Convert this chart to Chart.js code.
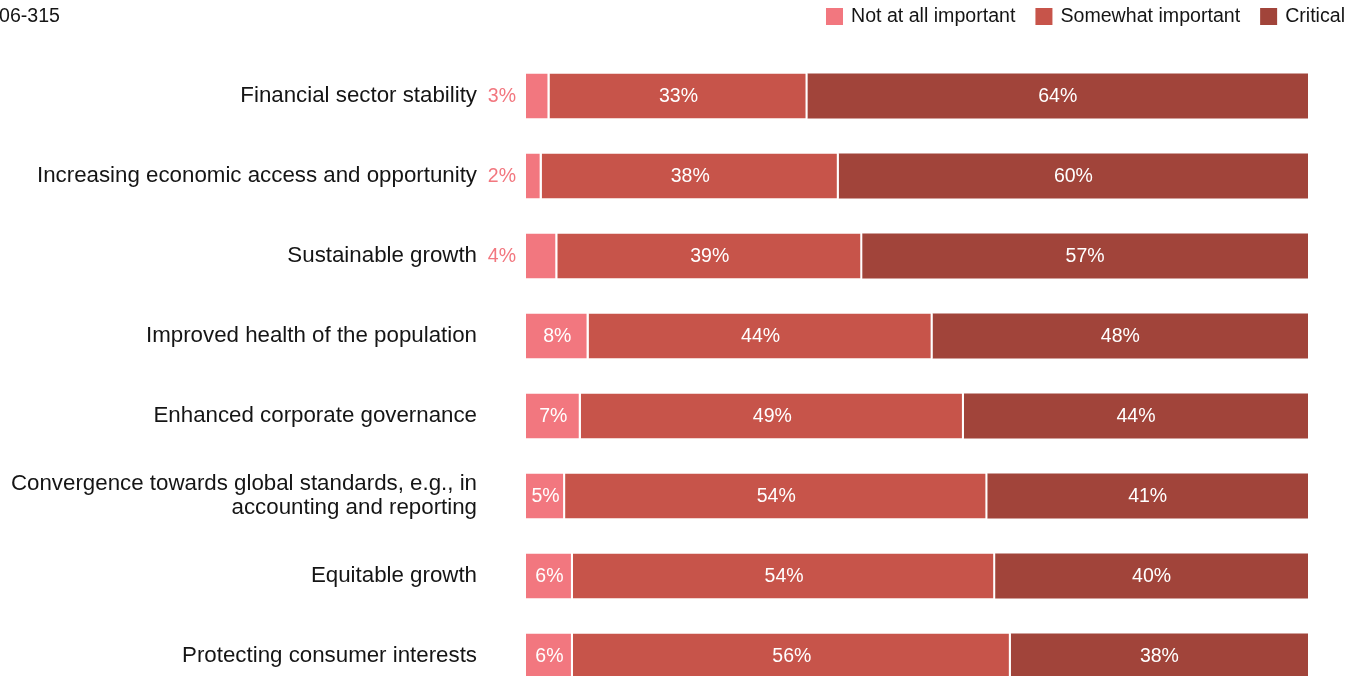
<!DOCTYPE html>
<html>
<head>
<meta charset="utf-8">
<title>Importance of objectives</title>
<script src="https://cdn.jsdelivr.net/npm/chart.js@4.4.1/dist/chart.umd.min.js"></script>
<style>
  html, body { margin: 0; padding: 0; background: #fff; overflow: hidden; }
  #wrap { position: relative; width: 1367px; height: 676px; overflow: hidden; }
  #wrap canvas { display: block; }
</style>
</head>
<body>
<div id="wrap"><canvas id="chart" width="1367" height="696"></canvas></div>
<script>
// survey answers, share of respondents in %
const categories = [
  "Financial sector stability",
  "Increasing economic access and opportunity",
  "Sustainable growth",
  "Improved health of the population",
  "Enhanced corporate governance",
  ["Convergence towards global standards, e.g., in", "accounting and reporting"],
  "Equitable growth",
  "Protecting consumer interests"
];
const notImportant = [3, 2, 4, 8, 7, 5, 6, 6];
const somewhatImportant = [33, 38, 39, 44, 49, 54, 54, 56];
const critical = [64, 60, 57, 48, 44, 41, 40, 38];

const seriesNames = ["Not at all important", "Somewhat important", "Critical"];
const seriesColors = ["#f2777f", "#c7544a", "#a1443a"];

const FONT = '"Liberation Sans", Arial, Helvetica, sans-serif';
const TEXT = "#151515";

// percent labels: white inside the segment, or to the left of the bar when it's too thin
const valueLabels = {
  id: "valueLabels",
  afterDatasetsDraw(chart) {
    const ctx = chart.ctx;
    ctx.save();
    ctx.font = "19.5px " + FONT;
    ctx.textBaseline = "middle";
    chart.data.datasets.forEach((ds, di) => {
      chart.getDatasetMeta(di).data.forEach((bar, i) => {
        const text = ds.data[i] + "%";
        const left = Math.min(bar.base, bar.x);
        const w = Math.abs(bar.x - bar.base);
        if (ctx.measureText(text).width + 6 > w) {
          ctx.fillStyle = ds.backgroundColor;
          ctx.textAlign = "right";
          ctx.fillText(text, chart.chartArea.left - 10, bar.y + 1);
        } else {
          ctx.fillStyle = "#fff";
          ctx.textAlign = "center";
          ctx.fillText(text, left + w / 2, bar.y + 1);
        }
      });
    });
    ctx.restore();
  }
};

// legend in the top right corner plus the exhibit code at the top left
const topLegend = {
  id: "topLegend",
  afterDraw(chart) {
    const ctx = chart.ctx;
    ctx.save();
    ctx.font = "19.6px " + FONT;
    ctx.textBaseline = "middle";
    ctx.textAlign = "left";
    let x = 1345;
    const items = chart.data.datasets.slice().reverse();
    items.forEach(ds => {
      const tw = ctx.measureText(ds.label).width;
      const tx = x - tw;
      const bx = tx - 8 - 17;
      ctx.fillStyle = ds.backgroundColor;
      ctx.fillRect(bx, 8, 17, 17);
      ctx.fillStyle = TEXT;
      ctx.fillText(ds.label, tx, 17);
      x = bx - 20;
    });
    ctx.fillText("06-315", -1, 17);
    ctx.restore();
  }
};

const series = [notImportant, somewhatImportant, critical];

new Chart(document.getElementById("chart"), {
  type: "bar",
  data: {
    labels: categories,
    datasets: series.map((values, i) => ({
      label: seriesNames[i],
      data: values,
      backgroundColor: seriesColors[i],
      borderColor: "#fff",
      borderWidth: i < series.length - 1 ? { top: 0, bottom: 0, left: 0, right: 2 } : 0,
      borderSkipped: false,
      barPercentage: 0.5625,
      categoryPercentage: 1
    }))
  },
  options: {
    indexAxis: "y",
    responsive: false,
    animation: false,
    layout: { padding: { top: 56, right: 59, bottom: 0, left: 0 } },
    plugins: {
      legend: { display: false },
      tooltip: { enabled: false }
    },
    scales: {
      x: { stacked: true, min: 0, max: 100, display: false },
      y: {
        stacked: true,
        grid: { display: false, drawTicks: false },
        border: { display: false },
        ticks: {
          padding: 49,
          color: TEXT,
          font: { family: FONT, size: 22.3, lineHeight: 1.08 }
        },
        afterFit(scale) {
          // fixed label column, no extra room above/below the bands
          scale.width = 526;
          scale.paddingTop = 0;
          scale.paddingBottom = 0;
        }
      }
    }
  },
  plugins: [valueLabels, topLegend]
});
</script>
</body>
</html>
